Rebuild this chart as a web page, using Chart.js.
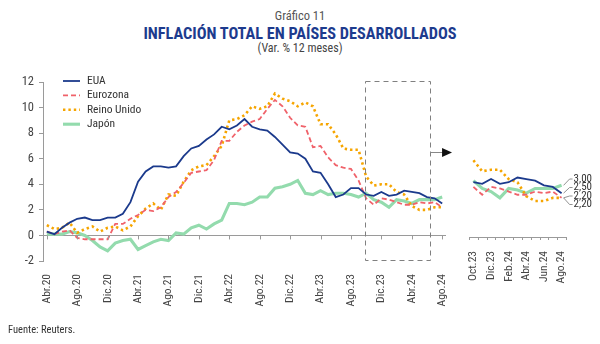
<!DOCTYPE html>
<html lang="es">
<head>
<meta charset="utf-8">
<title>Inflación total en países desarrollados</title>
<script src="https://cdn.jsdelivr.net/npm/chart.js@4.4.1/dist/chart.umd.min.js"></script>
<style>
  html, body { margin: 0; padding: 0; background: #fff; }
  #wrap { position: relative; width: 600px; height: 344px; overflow: hidden;
          font-family: 'Liberation Sans Narrow', 'Roboto Condensed', 'Roboto', sans-serif; }
  .t { position: absolute; left: 0; width: 600px; text-align: center; white-space: nowrap; }
  #num { top: 8px; font-size: 12.5px; color: #555; }
  #ttl { top: 24px; font-size: 16.3px; font-weight: bold; color: #1d3b8e; }
  #sub { top: 41px; font-size: 12px; color: #444; }
  #src { position: absolute; left: 8px; top: 323px; font-size: 10.5px; color: #333; }
  canvas { position: absolute; top: 0; }
  #main { left: 0; }
  #zoom { left: 440px; }
</style>
</head>
<body>
<div id="wrap">
  <div class="t" id="num">Gráfico 11</div>
  <div class="t" id="ttl">INFLACIÓN TOTAL EN PAÍSES DESARROLLADOS</div>
  <div class="t" id="sub">(Var. % 12 meses)</div>
  <canvas id="main" width="600" height="344"></canvas>
  <canvas id="zoom" width="160" height="344"></canvas>
  <div id="src">Fuente: Reuters.</div>
</div>
<script>
  'use strict';

  const FONT = "'Liberation Sans Narrow', 'Roboto Condensed', 'Roboto', sans-serif";

  // monthly labels, Apr 2020 .. Aug 2024
  const months = [
    'Abr.20', 'May.20', 'Jun.20', 'Jul.20', 'Ago.20', 'Sep.20', 'Oct.20', 'Nov.20', 'Dic.20',
    'Ene.21', 'Feb.21', 'Mar.21', 'Abr.21', 'May.21', 'Jun.21', 'Jul.21', 'Ago.21', 'Sep.21', 'Oct.21', 'Nov.21', 'Dic.21',
    'Ene.22', 'Feb.22', 'Mar.22', 'Abr.22', 'May.22', 'Jun.22', 'Jul.22', 'Ago.22', 'Sep.22', 'Oct.22', 'Nov.22', 'Dic.22',
    'Ene.23', 'Feb.23', 'Mar.23', 'Abr.23', 'May.23', 'Jun.23', 'Jul.23', 'Ago.23', 'Sep.23', 'Oct.23', 'Nov.23', 'Dic.23',
    'Ene.24', 'Feb.24', 'Mar.24', 'Abr.24', 'May.24', 'Jun.24', 'Jul.24', 'Ago.24',
  ];

  const eua = [
    0.3, 0.1, 0.6, 1.0, 1.3, 1.4, 1.2, 1.2, 1.4,
    1.4, 1.7, 2.6, 4.2, 5.0, 5.4, 5.4, 5.3, 5.4, 6.2, 6.8, 7.0,
    7.5, 7.9, 8.5, 8.3, 8.6, 9.1, 8.5, 8.3, 8.2, 7.7, 7.1, 6.5,
    6.4, 6.0, 5.0, 4.9, 4.0, 3.0, 3.2, 3.7, 3.7, 3.2, 3.1, 3.4,
    3.1, 3.2, 3.5, 3.4, 3.3, 3.0, 2.9, 2.5,
  ];
  const eurozona = [
    0.3, 0.1, 0.3, 0.4, -0.2, -0.3, -0.3, -0.3, -0.3,
    0.9, 0.9, 1.3, 1.6, 2.0, 1.9, 2.2, 3.0, 3.4, 4.1, 4.9, 5.0,
    5.1, 5.9, 7.4, 7.4, 8.1, 8.6, 8.9, 9.1, 9.9, 10.6, 10.1, 9.2,
    8.6, 8.5, 6.9, 7.0, 6.1, 5.5, 5.3, 5.2, 4.3, 2.9, 2.4, 2.9,
    2.8, 2.6, 2.4, 2.4, 2.6, 2.5, 2.6, 2.2,
  ];
  const reinoUnido = [
    0.8, 0.5, 0.6, 1.0, 0.2, 0.5, 0.7, 0.3, 0.6,
    0.7, 0.4, 0.7, 1.5, 2.1, 2.5, 2.0, 3.2, 3.1, 4.2, 5.1, 5.4,
    5.5, 6.2, 7.0, 9.0, 9.1, 9.4, 10.1, 9.9, 10.1, 11.1, 10.7, 10.5,
    10.1, 10.4, 10.1, 8.7, 8.7, 7.9, 6.8, 6.7, 6.7, 4.6, 3.9, 4.0,
    4.0, 3.4, 3.2, 2.3, 2.0, 2.0, 2.2, 2.2,
  ];
  const japon = [
    0.1, 0.1, 0.1, 0.3, 0.2, 0.0, -0.4, -0.9, -1.2,
    -0.6, -0.4, -0.3, -1.1, -0.8, -0.5, -0.3, -0.4, 0.2, 0.1, 0.6, 0.8,
    0.5, 0.9, 1.2, 2.5, 2.5, 2.4, 2.6, 3.0, 3.0, 3.7, 3.8, 4.0,
    4.3, 3.3, 3.2, 3.5, 3.2, 3.3, 3.3, 3.2, 3.0, 3.3, 2.8, 2.6,
    2.2, 2.8, 2.7, 2.5, 2.8, 2.8, 2.8, 3.0,
  ];

  // detail panel starts at Oct.23
  const zoomFrom = 42;

  const series = [
    { label: 'EUA', data: eua, color: '#1b3a8c', width: 1.8, dash: [] },
    { label: 'Eurozona', data: eurozona, color: '#f0626a', width: 1.8, dash: [5, 3] },
    { label: 'Reino Unido', data: reinoUnido, color: '#f6a500', width: 2.6, dash: [2.4, 3] },
    { label: 'Japón', data: japon, color: '#93dbad', width: 3.1, dash: [] },
  ];

  const AXIS = '#9a9a9a';

  function makeDatasets(from) {
    return series.map((s) => ({
      label: s.label,
      data: s.data.slice(from),
      borderColor: s.color,
      backgroundColor: s.color,
      borderWidth: s.width,
      borderDash: s.dash,
      pointRadius: 0,
      tension: 0,
      fill: false,
    }));
  }

  // zero line ticks, legend, dashed zoom box and the arrow
  const mainDecor = {
    id: 'mainDecor',
    afterDraw(chart) {
      const { ctx, scales: { x, y } } = chart;
      const y0 = y.getPixelForValue(0);
      ctx.save();
      ctx.strokeStyle = AXIS;
      ctx.lineWidth = 1;
      ctx.beginPath();
      months.forEach((m, i) => {
        if (i % 4 !== 0) return;
        const px = Math.round(x.getPixelForValue(i)) + 0.5;
        ctx.moveTo(px, y0);
        ctx.lineTo(px, y0 + 4);
      });
      ctx.stroke();

      // legend
      ctx.font = `11.5px ${FONT}`;
      ctx.textBaseline = 'middle';
      ctx.fillStyle = '#333';
      series.forEach((s, i) => {
        const ly = 81 + i * 14.4;
        ctx.beginPath();
        ctx.strokeStyle = s.color;
        ctx.lineWidth = s.width;
        ctx.setLineDash(s.dash);
        ctx.moveTo(63, ly);
        ctx.lineTo(80, ly);
        ctx.stroke();
        ctx.setLineDash([]);
        ctx.fillText(s.label, 87, ly);
      });

      // dashed box around the detail period
      const bx0 = x.getPixelForValue(41.8);
      const bx1 = x.getPixelForValue(50.4);
      const by0 = y.getPixelForValue(12.1);
      const by1 = y.getPixelForValue(-1.9);
      ctx.strokeStyle = '#808080';
      ctx.lineWidth = 1;
      ctx.setLineDash([5, 4]);
      ctx.strokeRect(Math.round(bx0) + 0.5, Math.round(by0) + 0.5, Math.round(bx1 - bx0), Math.round(by1 - by0));
      ctx.setLineDash([]);

      // arrow pointing to the detail panel
      const ay = Math.round(y.getPixelForValue(6.5)) + 0.5;
      ctx.beginPath();
      ctx.strokeStyle = '#888';
      ctx.moveTo(bx1, ay);
      ctx.lineTo(bx1 + 13, ay);
      ctx.stroke();
      ctx.beginPath();
      ctx.fillStyle = '#111';
      ctx.moveTo(bx1 + 12, ay - 4.5);
      ctx.lineTo(bx1 + 22, ay);
      ctx.lineTo(bx1 + 12, ay + 4.5);
      ctx.closePath();
      ctx.fill();
      ctx.restore();
    },
  };

  new Chart(document.getElementById('main'), {
    type: 'line',
    data: { labels: months, datasets: makeDatasets(0) },
    options: {
      responsive: false,
      animation: false,
      layout: { padding: { top: 82, right: 154, bottom: 0, left: 0 } },
      plugins: { legend: { display: false }, tooltip: { enabled: false } },
      scales: {
        x: {
          offset: true,
          grid: { display: false },
          border: { display: false },
          ticks: {
            autoSkip: false, minRotation: 90, maxRotation: 90, padding: 5,
            color: '#444', font: { size: 11.5, family: FONT },
            callback(v, i) { return i % 4 === 0 ? this.getLabelForValue(v) : null; },
          },
          afterFit(s) { s.height = 83; },
        },
        y: {
          min: -2, max: 12,
          ticks: { stepSize: 2, padding: 5, color: '#444', font: { size: 12.5, family: FONT } },
          grid: {
            color: (c) => (c.tick && c.tick.value === 0 ? AXIS : 'rgba(0,0,0,0)'),
            tickColor: AXIS, tickLength: 4,
          },
          border: { color: AXIS },
          afterFit(s) { s.width = 43; },
        },
      },
    },
    plugins: [mainDecor],
  });

  // month ticks and end-value labels for the detail panel
  const labelRows = [179, 187.5, 196, 204.5];
  const zoomDecor = {
    id: 'zoomDecor',
    afterDraw(chart) {
      const { ctx, scales: { x, y }, chartArea } = chart;
      const n = months.length - zoomFrom;
      const step = x.getPixelForValue(1) - x.getPixelForValue(0);
      ctx.save();
      ctx.strokeStyle = AXIS;
      ctx.lineWidth = 1;
      ctx.beginPath();
      for (let i = 0; i <= n; i++) {
        const px = Math.round(x.getPixelForValue(0) - step / 2 + i * step) + 0.5;
        ctx.moveTo(px, chartArea.bottom);
        ctx.lineTo(px, chartArea.bottom + 3);
      }
      ctx.stroke();

      const ends = series.map((s, i) => ({ v: s.data[s.data.length - 1], i }))
        .sort((a, b) => b.v - a.v || a.i - b.i);
      const ex = x.getPixelForValue(n - 1);
      ctx.font = `11px ${FONT}`;
      ctx.textBaseline = 'middle';
      ctx.fillStyle = '#333';
      ctx.strokeStyle = '#777';
      ctx.lineWidth = 0.8;
      ends.forEach((e, k) => {
        const ey = y.getPixelForValue(e.v);
        const ly = labelRows[k];
        ctx.beginPath();
        ctx.moveTo(ex + 2, ey);
        ctx.lineTo(ex + 8, ly);
        ctx.lineTo(ex + 11, ly);
        ctx.stroke();
        ctx.fillText(e.v.toFixed(2).replace('.', ','), ex + 12, ly);
      });
      ctx.restore();
    },
  };

  new Chart(document.getElementById('zoom'), {
    type: 'line',
    data: { labels: months.slice(zoomFrom), datasets: makeDatasets(zoomFrom) },
    options: {
      responsive: false,
      animation: false,
      layout: { padding: { top: 82, right: 34, bottom: 0, left: 29 } },
      plugins: { legend: { display: false }, tooltip: { enabled: false } },
      scales: {
        x: {
          offset: true,
          grid: { display: false },
          border: { display: true, color: AXIS },
          ticks: {
            autoSkip: false, minRotation: 90, maxRotation: 90, padding: 6,
            color: '#444', font: { size: 11.5, family: FONT },
            callback(v, i) { return i % 2 === 0 ? this.getLabelForValue(v) : null; },
          },
          afterFit(s) { s.height = 107; },
        },
        y: { display: false, min: -0.3, max: 9.6 },
      },
    },
    plugins: [zoomDecor],
  });
</script>
</body>
</html>
